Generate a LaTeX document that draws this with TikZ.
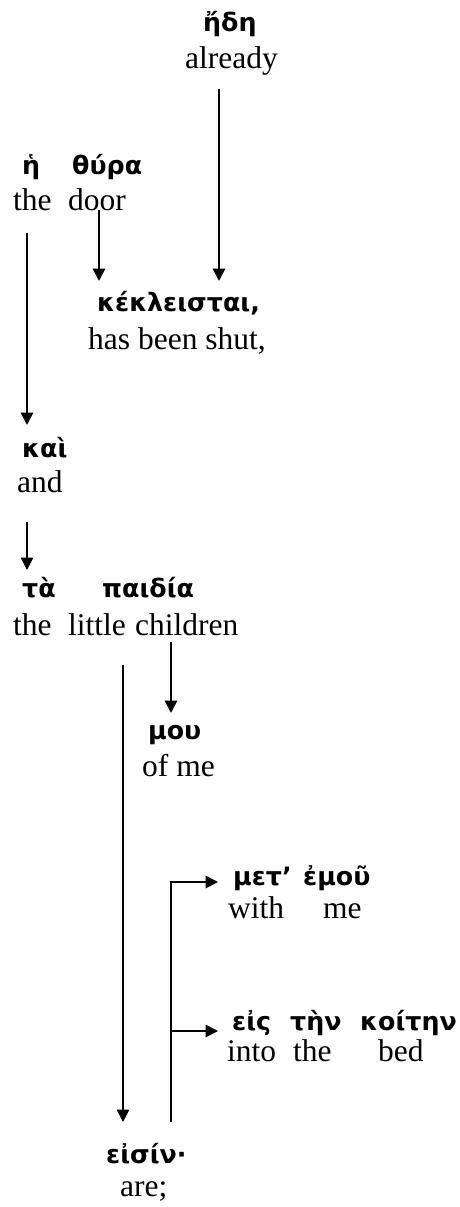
\documentclass[tikz,border=0pt]{standalone}
\usepackage{fontspec}
\setmainfont{Liberation Serif}
\newfontfamily\gkfont[Script=Greek]{DejaVu Sans}
\usetikzlibrary{arrows.meta}
\begin{document}
\begin{tikzpicture}[x=1pt,y=-1pt,
  gk/.style={anchor=base west,inner sep=0pt,font=\gkfont\bfseries\fontsize{25.3}{30}\selectfont},
  en/.style={anchor=base west,inner sep=0pt,font=\fontsize{31.5}{36}\selectfont},
  conn/.style={line width=1.8pt},
  arr/.style={conn,-{Triangle[length=12.5pt,width=12.5pt]}}]
\useasboundingbox (0,0) rectangle (460,1207);
% words
\node[gk] (edh) at (203,32) {ἤδη};
\node[en] (already) at (185,68) {already};
\node[gk] (he) at (22,174) {ἡ};
\node[gk] (thura) at (72,174) {θύρα};
\node[en] (the1) at (13,210) {the};
\node[en] (door) at (68,210) {door};
\node[gk] (kek) at (97,311) {κέκλεισται,};
\node[en] (shut) at (88,349) {has been shut,};
\node[gk] (kai) at (22,457) {καὶ};
\node[en] (and) at (17,492) {and};
\node[gk] (ta) at (22,597) {τὰ};
\node[gk] (paidia) at (102,597) {παιδία};
\node[en] (the2) at (13,635) {the};
\node[en] (little) at (68,635) {little};
\node[en] (children) at (135,635) {children};
\node[gk] (mou) at (148,739) {μου};
\node[en] (ofme) at (142,776) {of me};
\node[gk] (met) at (233,885) {μετ’};
\node[gk] (emou) at (303,885) {ἐμοῦ};
\node[en] (with) at (228,918) {with};
\node[en] (me) at (323,918) {me};
\node[gk] (eis) at (232,1030) {εἰς};
\node[gk] (ten) at (290,1030) {τὴν};
\node[gk] (koiten) at (360,1030) {κοίτην};
\node[en] (into) at (227,1061) {into};
\node[en] (the3) at (293,1061) {the};
\node[en] (bed) at (378,1061) {bed};
\node[gk] (eisin) at (106,1163) {εἰσίν·};
\node[en] (are) at (120,1196) {are;};
% connector ends
\coordinate (already-out) at (219,89);
\coordinate (kek-in1) at (219,281);
\coordinate (door-out) at (99,210);
\coordinate (kek-in2) at (99,281);
\coordinate (the1-out) at (27,233);
\coordinate (kai-in) at (27,425);
\coordinate (and-out) at (27,522);
\coordinate (ta-in) at (27,570);
\coordinate (children-out) at (171,642);
\coordinate (mou-in) at (171,713);
\coordinate (paidia-out) at (123,665);
\coordinate (eisin-in) at (123,1122);
\coordinate (eisin-out) at (171,1122);
\coordinate (br-top) at (171,882);
\coordinate (met-in) at (218,882);
\coordinate (br-mid) at (171,1031);
\coordinate (eis-in) at (218,1031);
% connectors
\draw[arr] (already-out) -- (kek-in1);
\draw[arr] (door-out) -- (kek-in2);
\draw[arr] (the1-out) -- (kai-in);
\draw[arr] (and-out) -- (ta-in);
\draw[arr] (children-out) -- (mou-in);
\draw[arr] (paidia-out) -- (eisin-in);
\draw[arr] (eisin-out) -- (br-top) -- (met-in);
\draw[arr] (br-mid) -- (eis-in);
\end{tikzpicture}
\end{document}
